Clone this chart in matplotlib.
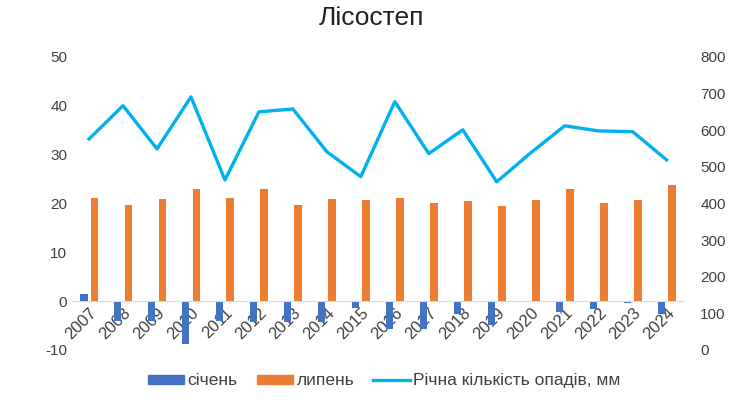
import matplotlib.pyplot as plt
from matplotlib.patches import Patch
from matplotlib.lines import Line2D
import numpy as np

years = [str(y) for y in range(2007, 2025)]
jan = [1.4, -4.0, -4.0, -8.7, -4.0, -4.3, -4.3, -4.3, -1.4, -5.7, -5.7, -2.6, -5.0, 0.0, -2.2, -1.7, -0.4, -2.6]
jul = [21.2, 19.6, 21.0, 22.9, 21.2, 22.9, 19.6, 21.0, 20.6, 21.2, 20.0, 20.4, 19.4, 20.6, 22.9, 20.0, 20.6, 23.7]
precip = [576, 667, 549, 691, 464, 650, 658, 541, 473, 678, 536, 601, 459, 538, 612, 598, 596, 519]

plt.rcParams['font.family'] = ['Liberation Sans', 'DejaVu Sans']
plt.rcParams['axes.unicode_minus'] = False
txt = '#404040'

fig = plt.figure(figsize=(7.43, 4.04), dpi=100)
ax1 = fig.add_axes([0.097, 0.134, 0.823, 0.725])
x = np.arange(len(years))
w = 0.22
ax1.bar(x - 0.155, jan, w, color='#4472C4', zorder=2)
ax1.bar(x + 0.155, jul, w, color='#ED7D31', zorder=2)
ax1.set_ylim(-10, 50)
ax1.set_yticks(range(-10, 51, 10))
ax1.set_xlim(-0.5, len(years) - 0.5)
ax1.set_xticks(x, years)
for s in ['top', 'right', 'left']:
    ax1.spines[s].set_visible(False)
ax1.spines['bottom'].set_position(('data', 0))
ax1.spines['bottom'].set_color('#D9D9D9')
ax1.tick_params(axis='both', length=0, labelsize=11, colors=txt)
ax1.tick_params(axis='x', pad=3, labelrotation=45, labelsize=12)
for lbl in ax1.get_xticklabels():
    lbl.set_ha('right')
    lbl.set_va('top')
    lbl.set_rotation_mode('anchor')

ax2 = ax1.twinx()
ax2.plot(x, precip, color='#00B0F0', lw=2.4, zorder=3)
ax2.set_ylim(0, 800)
ax2.set_yticks(range(0, 801, 100))
for s in ax2.spines.values():
    s.set_visible(False)
ax2.tick_params(axis='y', length=0, labelsize=11, colors=txt, pad=12)

fig.suptitle('Лісостеп', y=0.985, fontsize=19, color='#222222')

handles = [Patch(color='#4472C4'), Patch(color='#ED7D31'),
           Line2D([], [], color='#00B0F0', lw=2.4)]
fig.legend(handles, ['січень', 'липень', 'Річна кількість опадів, мм'],
           loc='lower center', bbox_to_anchor=(0.517, 0.0), ncol=3, frameon=False,
           fontsize=12.5, handlelength=2.1, handleheight=0.45, columnspacing=1.1,
           handletextpad=0.2, labelcolor=txt)

fig.savefig('out.png', dpi=100)
